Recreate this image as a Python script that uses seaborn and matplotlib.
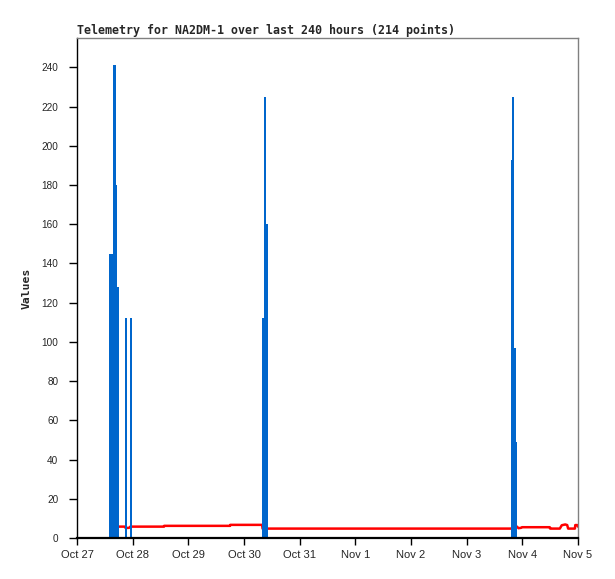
import matplotlib
matplotlib.use("Agg")
import matplotlib.pyplot as plt
import matplotlib.dates as mdates
import seaborn as sns
import pandas as pd

# ---- data ----
title = "Telemetry for NA2DM-1 over last 240 hours (214 points)"
y_label = "Values"

bar_times = ["2023-10-27 13:50", "2023-10-27 15:30", "2023-10-27 16:50", "2023-10-27 17:15",
             "2023-10-27 20:45", "2023-10-27 22:50",
             "2023-10-30 07:50", "2023-10-30 08:35", "2023-10-30 09:30",
             "2023-11-03 19:05", "2023-11-03 19:30", "2023-11-03 20:25", "2023-11-03 21:15"]
bar_values = [145, 241, 180, 128, 112, 112, 112, 225, 160, 193, 225, 97, 49]
bar_duration_hours = [1.7, 1.3, 0.45, 0.9, 0.75, 0.75, 0.85, 0.9, 0.85, 0.45, 0.9, 0.9, 0.45]

line_times = ["2023-10-27 18:05", "2023-10-27 20:30", "2023-10-27 21:00", "2023-10-27 22:30",
              "2023-10-27 23:00", "2023-10-28 13:30", "2023-10-28 13:35", "2023-10-29 18:00",
              "2023-10-29 18:05", "2023-10-30 07:50", "2023-10-30 08:00", "2023-11-03 19:00",
              "2023-11-03 21:40", "2023-11-03 22:20", "2023-11-03 23:30", "2023-11-03 23:50",
              "2023-11-04 11:50", "2023-11-04 12:00", "2023-11-04 16:10", "2023-11-04 17:00",
              "2023-11-04 18:30", "2023-11-04 19:20", "2023-11-04 19:45", "2023-11-04 22:40",
              "2023-11-04 22:50", "2023-11-04 23:40", "2023-11-05 00:00"]
line_values = [5.8, 5.8, 5.1, 5.2, 5.8, 5.8, 6.2, 6.2, 6.7, 6.7, 4.8, 4.8,
               5.8, 5.0, 5.2, 5.5, 5.5, 4.8, 4.8, 6.5, 6.9, 6.6, 4.8, 4.8,
               6.6, 6.6, 5.8]

x_start = "2023-10-27 00:00"
x_end = "2023-11-05 00:00"
y_ticks = list(range(0, 241, 20))

# ---- plot ----
sns.set_style("white")
plt.rcParams["font.family"] = ["DejaVu Sans"]

fig = plt.figure(figsize=(6.15, 5.79), dpi=100)
ax = fig.add_axes([77 / 615, 41 / 579, 501 / 615, 500 / 579])

line_df = pd.DataFrame({"time": pd.to_datetime(line_times), "value": line_values})
sns.lineplot(data=line_df, x="time", y="value", color="#ff0000", linewidth=1.8,
             ax=ax, zorder=2, estimator=None, sort=False)

bt = pd.to_datetime(bar_times)
widths = [h / 24.0 for h in bar_duration_hours]
ax.bar(mdates.date2num(bt), bar_values, width=widths, align="edge",
       color="#0066cc", linewidth=0, zorder=3)

ax.set_xlim(mdates.date2num(pd.Timestamp(x_start)), mdates.date2num(pd.Timestamp(x_end)))
ax.set_ylim(0, 255)
ax.set_yticks(y_ticks)

ax.xaxis.set_major_locator(mdates.DayLocator())
ax.xaxis.set_major_formatter(plt.FuncFormatter(
    lambda v, p: (lambda d: f"{d:%b} {d.day}")(mdates.num2date(v))))

ax.tick_params(axis="x", direction="out", length=5, width=1, color="black",
               labelsize=8, pad=4, bottom=True)
ax.tick_params(axis="y", direction="out", length=5.5, width=1, color="black",
               labelsize=7.2, pad=8, left=True)
for lab in ax.get_xticklabels() + ax.get_yticklabels():
    lab.set_family("Liberation Sans")

for s in ["top", "right"]:
    ax.spines[s].set_color("#808080")
    ax.spines[s].set_linewidth(1)
ax.spines["left"].set_color("black")
ax.spines["left"].set_linewidth(1)
ax.spines["bottom"].set_color("black")
ax.spines["bottom"].set_linewidth(1.6)
ax.spines["bottom"].set_zorder(5)

ax.set_xlabel("")
ax.set_ylabel(y_label, family="DejaVu Sans Mono", fontweight="bold", fontsize=8.2, labelpad=7)
ax.set_title(title, loc="left", family="DejaVu Sans Mono", fontweight="bold",
             fontsize=8.4, pad=3)

fig.savefig("out.png", dpi=100, facecolor="white")
